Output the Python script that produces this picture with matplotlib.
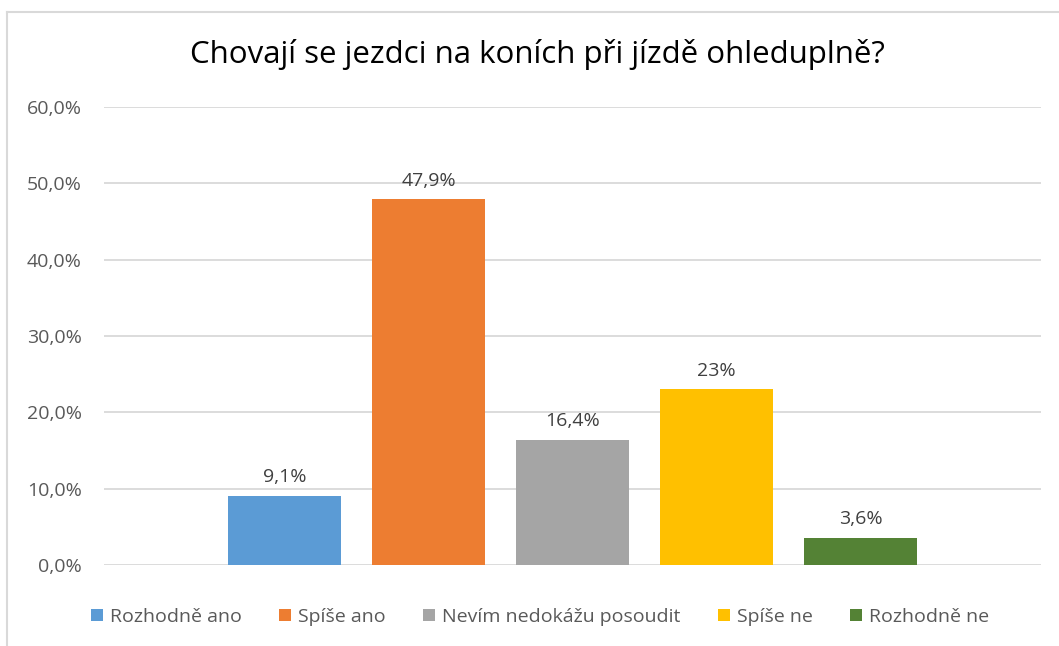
import matplotlib.pyplot as plt
from matplotlib.ticker import FuncFormatter

plt.rcParams['font.family'] = ['Open Sans', 'DejaVu Sans']

# data
categories = ["Rozhodně ano", "Spíše ano", "Nevím nedokážu posoudit", "Spíše ne", "Rozhodně ne"]
values = [9.1, 47.9, 16.4, 23.0, 3.6]
value_labels = ["9,1%", "47,9%", "16,4%", "23%", "3,6%"]
colors = ["#5b9bd5", "#ed7d31", "#a5a5a5", "#ffc000", "#548235"]
title = "Chovají se jezdci na koních při jízdě ohleduplně?"

W, H = 1059, 646
fig = plt.figure(figsize=(W / 100, H / 100), dpi=100)
ax = fig.add_axes([104 / W, 81 / H, (1041 - 104) / W, (565 - 107) / H])

xs = list(range(len(values)))
for x, v, c, name in zip(xs, values, colors, categories):
    ax.bar(x, v, width=113 / 144, color=c, label=name, zorder=3)

for x, v, lab in zip(xs, values, value_labels):
    ax.annotate(lab, (x, v), xytext=(0, 7), textcoords="offset points",
                ha="center", va="bottom", fontsize=14, color="#404040")

half = (1041 - 104) / 144 / 2
ax.set_xlim(2 - half, 2 + half)
ax.set_ylim(0, 60)
ax.set_yticks(range(0, 61, 10))
ax.yaxis.set_major_formatter(FuncFormatter(lambda v, p: ("%.1f%%" % v).replace(".", ",")))
ax.set_xticks([])
ax.grid(axis="y", color="#d9d9d9", linewidth=1.3, zorder=0)
for s in ax.spines.values():
    s.set_visible(False)
ax.tick_params(axis="y", length=0, pad=16, labelsize=14, labelcolor="#595959")

fig.text(537 / W, 1 - 55 / H, title, ha="center", va="center", fontsize=22.5, color="#000000")

fig.legend(loc="center", bbox_to_anchor=(540 / W, 1 - 617 / H), ncol=5, frameon=False,
           fontsize=14, handlelength=0.6, handleheight=0.6, handletextpad=0.35,
           columnspacing=1.95, labelcolor="#595959")

# outer border (top and left visible)
fig.add_artist(plt.Line2D([7 / W, 7 / W], [0, 1 - 12 / H], transform=fig.transFigure,
                          color="#d9d9d9", linewidth=1.5))
fig.add_artist(plt.Line2D([7 / W, 1], [1 - 12 / H, 1 - 12 / H], transform=fig.transFigure,
                          color="#d9d9d9", linewidth=1.5))

fig.savefig("out.png", dpi=100)
